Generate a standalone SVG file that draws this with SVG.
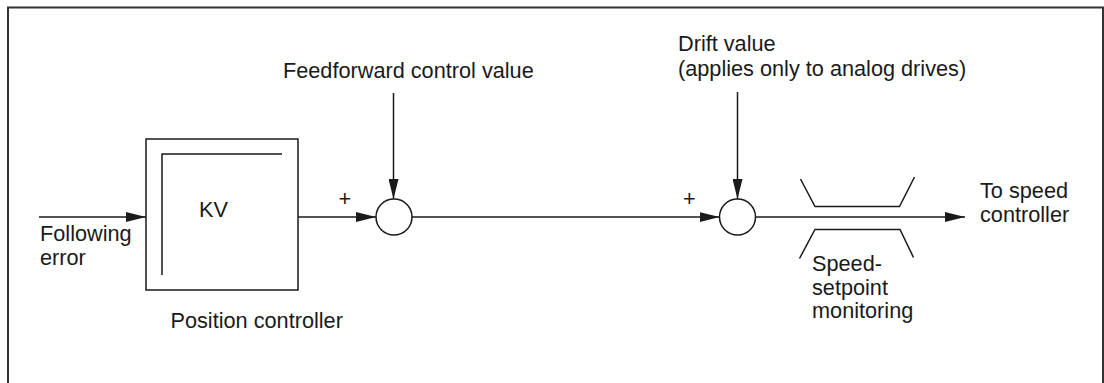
<svg xmlns="http://www.w3.org/2000/svg" width="1104" height="383" viewBox="0 0 1104 383">
  <style>
    text { font-family: "Liberation Sans", Arial, sans-serif; font-size: 21.7px; fill: #1a1a1a; }
    .ln { stroke: #1a1a1a; stroke-width: 1.5; fill: none; }
    .frame { stroke: #333; stroke-width: 2; fill: none; }
  </style>
  <defs>
    <marker id="arr" viewBox="0 0 20 10" refX="20" refY="5" markerWidth="20" markerHeight="10" markerUnits="userSpaceOnUse" orient="auto">
      <path d="M0,0 L20,5 L0,10 Z" fill="#1a1a1a"/>
    </marker>
  </defs>
  <rect width="1104" height="383" fill="#fff"/>
  <path class="frame" d="M8,383 V7.5 H1103 V383"/>

  <g id="position-controller">
    <rect class="ln" x="146" y="139" width="152" height="151" fill="#fff"/>
    <path class="ln" d="M162,275 V154 H282"/>
    <text x="199" y="217">KV</text>
    <text x="170.5" y="328">Position controller</text>
  </g>

  <g id="sum1">
    <circle class="ln" cx="394" cy="217" r="18" fill="#fff"/>
  </g>

  <g id="sum2">
    <circle class="ln" cx="737.5" cy="217" r="18" fill="#fff"/>
  </g>

  <g id="speed-monitoring">
    <path class="ln" d="M800.5,179 L815,206.5 H899.5 L914.5,177"/>
    <path class="ln" d="M799.5,258.5 L815,229.5 H900 L913.5,257.5"/>
    <text x="812" y="271">Speed-</text>
    <text x="812" y="294.5">setpoint</text>
    <text x="812" y="318">monitoring</text>
  </g>

  <g id="labels">
    <text x="40" y="240.5">Following</text>
    <text x="40" y="265">error</text>
    <text x="283" y="78">Feedforward control value</text>
    <text x="678" y="50.5">Drift value</text>
    <text x="678" y="76">(applies only to analog drives)</text>
    <text x="980" y="197.5">To speed</text>
    <text x="980" y="221.5">controller</text>
    <text x="338.5" y="206">+</text>
    <text x="683" y="206">+</text>
  </g>

  <g id="connectors">
    <line class="ln" x1="39" y1="217" x2="146" y2="217" marker-end="url(#arr)"/>
    <line class="ln" x1="298" y1="217" x2="376" y2="217" marker-end="url(#arr)"/>
    <line class="ln" x1="393.5" y1="93" x2="393.5" y2="199" marker-end="url(#arr)"/>
    <line class="ln" x1="412" y1="217" x2="719.5" y2="217" marker-end="url(#arr)"/>
    <line class="ln" x1="737.5" y1="92" x2="737.5" y2="199" marker-end="url(#arr)"/>
    <line class="ln" x1="755.5" y1="217" x2="965" y2="217" marker-end="url(#arr)"/>
  </g>
</svg>
